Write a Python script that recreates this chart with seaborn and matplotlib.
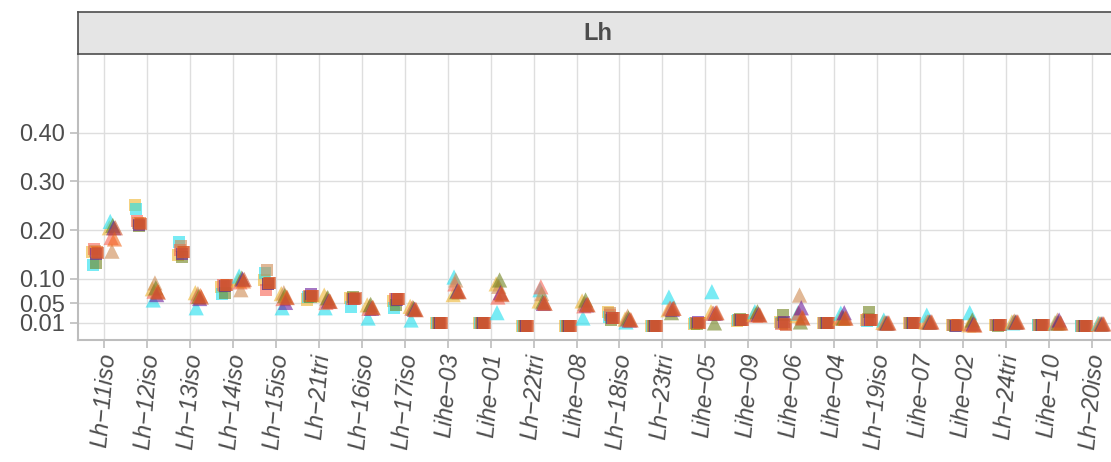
import numpy as np
import pandas as pd
import matplotlib
matplotlib.use("Agg")
import matplotlib.pyplot as plt
import seaborn as sns

# Isolates along the x axis, in plotting order
categories = ["Lh\u221211iso", "Lh\u221212iso", "Lh\u221213iso", "Lh\u221214iso", "Lh\u221215iso",
              "Lh\u221221tri", "Lh\u221216iso", "Lh\u221217iso", "Lihe\u221203", "Lihe\u221201",
              "Lh\u221222tri", "Lihe\u221208", "Lh\u221218iso", "Lh\u221223tri", "Lihe\u221205",
              "Lihe\u221209", "Lihe\u221206", "Lihe\u221204", "Lh\u221219iso", "Lihe\u221207",
              "Lihe\u221202", "Lh\u221224tri", "Lihe\u221210", "Lh\u221220iso"]

series = ["gold", "cyan", "salmon", "tan", "olive", "purple", "orange", "red"]

# Square-marker values per series
sq_gold   = [0.155, 0.252, 0.150, 0.083, 0.098, 0.058, 0.062, 0.055, 0.010, 0.010, 0.004, 0.004,
             0.033, 0.003, 0.008, 0.014, 0.012, 0.010, 0.016, 0.010, 0.006, 0.006, 0.006, 0.003]
sq_cyan   = [0.128, 0.243, 0.176, 0.070, 0.112, 0.063, 0.043, 0.041, 0.010, 0.010, 0.004, 0.004,
             0.022, 0.003, 0.010, 0.015, 0.010, 0.010, 0.014, 0.010, 0.006, 0.006, 0.006, 0.003]
sq_salmon = [0.162, 0.218, 0.160, 0.088, 0.078, 0.065, 0.060, 0.060, 0.010, 0.010, 0.004, 0.004,
             0.026, 0.003, 0.009, 0.016, 0.008, 0.010, 0.016, 0.010, 0.006, 0.006, 0.006, 0.003]
sq_tan    = [0.158, 0.215, 0.168, 0.086, 0.118, 0.066, 0.060, 0.058, 0.010, 0.010, 0.004, 0.004,
             0.030, 0.003, 0.010, 0.016, 0.010, 0.010, 0.017, 0.010, 0.006, 0.006, 0.006, 0.003]
sq_olive  = [0.132, 0.208, 0.145, 0.072, 0.090, 0.064, 0.063, 0.047, 0.010, 0.010, 0.004, 0.004,
             0.016, 0.003, 0.008, 0.017, 0.026, 0.010, 0.033, 0.010, 0.003, 0.004, 0.006, 0.003]
sq_purple = [0.152, 0.210, 0.152, 0.086, 0.090, 0.070, 0.060, 0.058, 0.010, 0.010, 0.004, 0.004,
             0.020, 0.003, 0.012, 0.016, 0.012, 0.010, 0.016, 0.010, 0.004, 0.006, 0.006, 0.003]
sq_orange = [0.156, 0.215, 0.155, 0.087, 0.092, 0.065, 0.060, 0.060, 0.010, 0.010, 0.004, 0.004,
             0.020, 0.003, 0.009, 0.016, 0.008, 0.010, 0.016, 0.010, 0.006, 0.006, 0.006, 0.003]
sq_red    = [0.154, 0.213, 0.155, 0.087, 0.092, 0.066, 0.061, 0.060, 0.010, 0.010, 0.004, 0.004,
             0.020, 0.003, 0.010, 0.016, 0.006, 0.010, 0.016, 0.010, 0.006, 0.006, 0.006, 0.003]

# Triangle-marker values per series
tri_gold   = [0.205, 0.080, 0.072, 0.098, 0.070, 0.067, 0.047, 0.044, 0.068, 0.090, 0.055, 0.055,
              0.018, 0.037, 0.033, 0.028, 0.025, 0.020, 0.011, 0.012, 0.006, 0.012, 0.010, 0.008]
tri_cyan   = [0.218, 0.057, 0.041, 0.106, 0.041, 0.041, 0.020, 0.016, 0.104, 0.031, 0.078, 0.020,
              0.012, 0.063, 0.074, 0.033, 0.030, 0.030, 0.016, 0.026, 0.031, 0.010, 0.010, 0.009]
tri_salmon = [0.185, 0.075, 0.064, 0.094, 0.060, 0.052, 0.040, 0.040, 0.090, 0.063, 0.084, 0.045,
              0.018, 0.040, 0.030, 0.026, 0.031, 0.022, 0.010, 0.012, 0.008, 0.012, 0.010, 0.008]
tri_tan    = [0.157, 0.092, 0.070, 0.078, 0.072, 0.060, 0.045, 0.042, 0.098, 0.085, 0.070, 0.050,
              0.024, 0.040, 0.030, 0.028, 0.067, 0.020, 0.010, 0.012, 0.010, 0.014, 0.016, 0.008]
tri_olive  = [0.210, 0.082, 0.064, 0.102, 0.066, 0.062, 0.048, 0.040, 0.074, 0.098, 0.053, 0.057,
              0.020, 0.031, 0.010, 0.033, 0.012, 0.020, 0.010, 0.012, 0.016, 0.012, 0.010, 0.008]
tri_purple = [0.205, 0.068, 0.060, 0.100, 0.052, 0.055, 0.040, 0.038, 0.076, 0.072, 0.050, 0.047,
              0.016, 0.038, 0.030, 0.028, 0.041, 0.031, 0.010, 0.012, 0.008, 0.012, 0.016, 0.008]
tri_orange = [0.182, 0.075, 0.066, 0.096, 0.063, 0.055, 0.042, 0.038, 0.075, 0.070, 0.052, 0.048,
              0.017, 0.040, 0.031, 0.027, 0.022, 0.020, 0.010, 0.012, 0.006, 0.012, 0.010, 0.008]
tri_red    = [0.205, 0.073, 0.063, 0.099, 0.062, 0.054, 0.041, 0.037, 0.074, 0.068, 0.050, 0.047,
              0.016, 0.040, 0.031, 0.026, 0.020, 0.020, 0.010, 0.012, 0.006, 0.012, 0.010, 0.008]

y_ticks = [0.01, 0.05, 0.10, 0.20, 0.30, 0.40]
y_tick_labels = ["0.01", "0.05", "0.10", "0.20", "0.30", "0.40"]
panel_label = "Lh"

palette = {"gold": "#EEB42F", "cyan": "#1EDEEE", "salmon": "#F76150", "tan": "#CD8A50",
           "olive": "#71821E", "purple": "#6A1B9A", "orange": "#F26A1E", "red": "#D0522A"}

square_sets = [sq_gold, sq_cyan, sq_salmon, sq_tan, sq_olive, sq_purple, sq_orange, sq_red]
triangle_sets = [tri_gold, tri_cyan, tri_salmon, tri_tan, tri_olive, tri_purple, tri_orange, tri_red]

# Long table with dodged positions: squares left of each category, triangles right
series_shift = np.linspace(-0.07, 0.07, len(series))
rows = []
for shape, sets, base in (("square", square_sets, -0.2), ("triangle", triangle_sets, 0.2)):
    for s_idx, (name, vals) in enumerate(zip(series, sets)):
        for c_idx, v in enumerate(vals):
            rows.append({"pos": c_idx + base + series_shift[s_idx], "value": v,
                         "series": name, "shape": shape})
df = pd.DataFrame(rows)

sns.set_theme(style="white")
plt.rcParams["font.family"] = ["Liberation Sans", "DejaVu Sans"]

W, H = 1111, 462
fig = plt.figure(figsize=(W / 100, H / 100), dpi=100)
px_l, px_r, px_t, px_b = 78, 1118, 54, 340
ax = fig.add_axes([px_l / W, 1 - px_b / H, (px_r - px_l) / W, (px_b - px_t) / H])

for shape, marker, size in (("square", "s", 75), ("triangle", "^", 120)):
    sns.scatterplot(data=df[df["shape"] == shape], x="pos", y="value", hue="series",
                    hue_order=series, palette=palette, marker=marker, s=size,
                    alpha=0.6, linewidth=0, legend=False, ax=ax, zorder=3)

ax.set_xlim(-0.6, len(categories) - 0.4)
ax.set_ylim(-0.025, 0.561)
ax.set_xticks(range(len(categories)))
ax.set_xticklabels(categories, rotation=85, ha="center", va="top",
                   fontstyle="italic", fontsize=17, color="#4D4D4D")
ax.set_yticks(y_ticks)
ax.set_yticklabels(y_tick_labels, fontsize=17, color="#4D4D4D")
ax.set_xlabel("")
ax.set_ylabel("")

ax.grid(True, color="#DEDEDE", linewidth=1.0, zorder=0)
ax.set_axisbelow(True)
for side in ("top", "right"):
    ax.spines[side].set_visible(False)
for side in ("left", "bottom"):
    ax.spines[side].set_color("#BDBDBD")
    ax.spines[side].set_linewidth(1.5)
ax.tick_params(axis="both", which="major", length=5.5, width=1.2, color="#BDBDBD",
               pad=3.5, bottom=True, left=True)

# Facet strip above the panel
strip = fig.add_axes([px_l / W, 1 - px_t / H, (px_r - px_l) / W, 42 / H])
strip.set_facecolor("#E5E5E5")
strip.set_xticks([])
strip.set_yticks([])
for sp in strip.spines.values():
    sp.set_color("#4D4D4D")
    sp.set_linewidth(1.2)
strip.text(0.5, 0.5, panel_label, transform=strip.transAxes, ha="center", va="center",
           fontsize=17, fontweight="bold", color="#4D4D4D")

fig.savefig("out.png", dpi=100)
